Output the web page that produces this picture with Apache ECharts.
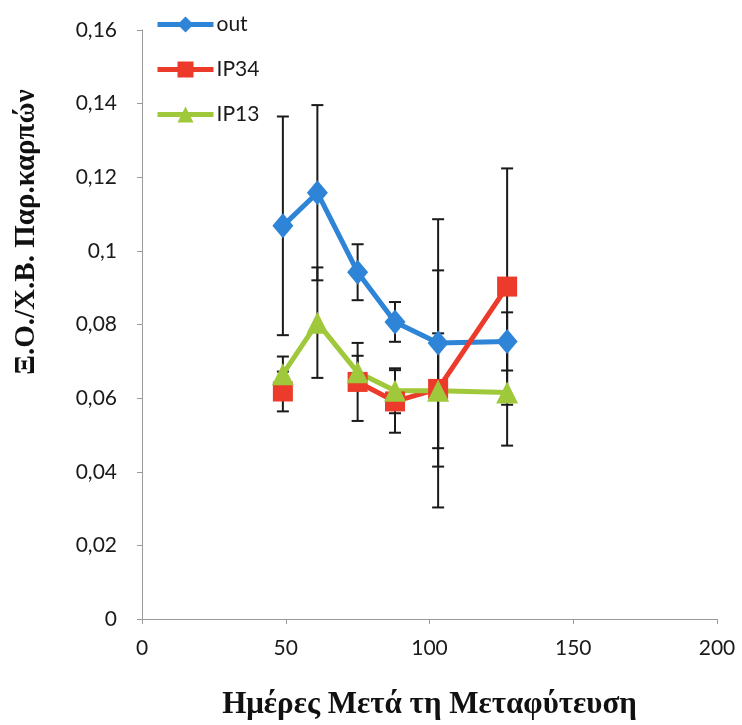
<!DOCTYPE html>
<html>
<head>
<meta charset="utf-8">
<script src="https://cdn.jsdelivr.net/npm/echarts@6/dist/echarts.min.js"></script>
<style>
  html, body { margin: 0; padding: 0; background: #fff; }
  #chart { width: 742px; height: 725px; }
</style>
</head>
<body>
<div id="chart"></div>
<script>
// Days after transplanting
const days = [49, 61, 75, 88, 103, 127];

// Mean values per treatment (null = no measurement)
const outVals  = [0.1068, 0.1158, 0.0942, 0.0807, 0.0750, 0.0754];
const ip34Vals = [0.0618, null,   0.0644, 0.0591, 0.0625, 0.0903];
const ip13Vals = [0.0665, 0.0805, 0.0670, 0.0620, 0.0620, 0.0615];

// Standard deviations (half-length of the error bars)
const outErr  = [0.0297, 0.0238, 0.0076, 0.0054, 0.0336, 0.0079];
const ip34Err = [0.0054, null,   0.0106, 0.0085, 0.0322, 0.0321];
const ip13Err = [0.0048, 0.0150, 0.0045, 0.0061, 0.0156, 0.0144];

const seriesNames = ['out', 'IP34', 'IP13'];
const colors = ['#2e84d6', '#ec3a2b', '#9fc93a'];
const yTicks = [0, 0.02, 0.04, 0.06, 0.08, 0.1, 0.12, 0.14, 0.16];

const tickFont = 'Lato, "Open Sans", sans-serif';
const titleFont = '"Liberation Serif", "DejaVu Serif", serif';

function pairs(vals) {
  return days.map((d, i) => [d, vals[i]]);
}
function errData(vals, errs) {
  const out = [];
  days.forEach((d, i) => {
    if (vals[i] != null && errs[i] != null) out.push([d, vals[i] - errs[i], vals[i] + errs[i]]);
  });
  return out;
}

function errorBarSeries(vals, errs) {
  return {
    type: 'custom',
    z: 1,
    silent: true,
    data: errData(vals, errs),
    encode: { x: 0, y: [1, 2] },
    renderItem: function (params, api) {
      const x = api.value(0);
      const lo = api.coord([x, api.value(1)]);
      const hi = api.coord([x, api.value(2)]);
      const hw = 6;
      const style = { stroke: '#1a1a1a', lineWidth: 2 };
      return {
        type: 'group',
        children: [
          { type: 'line', shape: { x1: hi[0], y1: hi[1], x2: lo[0], y2: lo[1] }, style: style },
          { type: 'line', shape: { x1: hi[0] - hw, y1: hi[1], x2: hi[0] + hw, y2: hi[1] }, style: style },
          { type: 'line', shape: { x1: lo[0] - hw, y1: lo[1], x2: lo[0] + hw, y2: lo[1] }, style: style }
        ]
      };
    }
  };
}

function lineSeries(name, vals, color, symbol, size) {
  return {
    name: name,
    type: 'line',
    z: 3,
    data: pairs(vals),
    connectNulls: false,
    symbol: symbol,
    symbolSize: size,
    showAllSymbol: true,
    lineStyle: { color: color, width: 5 },
    itemStyle: { color: color, borderWidth: 0 },
    emphasis: { disabled: true }
  };
}

const chart = echarts.init(document.getElementById('chart'), null, { renderer: 'canvas' });

const option = {
  animation: false,
  backgroundColor: '#ffffff',
  color: colors,
  grid: { left: 142, right: 25, top: 30, bottom: 91, containLabel: false },
  legend: {
    orient: 'vertical',
    left: 150,
    top: 9,
    itemWidth: 56,
    itemHeight: 20,
    itemGap: 24,
    data: seriesNames,
    lineStyle: { width: 5 },
    textStyle: { fontFamily: tickFont, fontSize: 21, color: '#1a1a1a', padding: [0, 0, 0, -2] }
  },
  xAxis: {
    type: 'value',
    min: 0,
    max: 200,
    interval: 50,
    name: 'Ημέρες Μετά τη Μεταφύτευση',
    nameLocation: 'middle',
    nameGap: 70,
    nameTextStyle: { fontFamily: titleFont, fontWeight: 'bold', fontSize: 31, color: '#111' },
    axisLine: { lineStyle: { color: '#9a9a9a', width: 1 } },
    axisTick: { show: true, length: 5, lineStyle: { color: '#9a9a9a' } },
    axisLabel: { fontFamily: tickFont, fontSize: 21, color: '#1a1a1a', margin: 19 },
    splitLine: { show: false }
  },
  yAxis: {
    type: 'value',
    min: 0,
    max: 0.16,
    interval: 0.02,
    axisLine: { show: true, lineStyle: { color: '#9a9a9a', width: 1 } },
    axisTick: { show: true, length: 5, lineStyle: { color: '#9a9a9a' } },
    axisLabel: {
      fontFamily: tickFont,
      fontSize: 21,
      color: '#1a1a1a',
      margin: 25,
      formatter: function (v) {
        const t = yTicks.find(k => Math.abs(k - v) < 1e-9);
        return String(+(t != null ? t : v).toFixed(2)).replace('.', ',');
      }
    },
    splitLine: { show: false }
  },
  graphic: [{
    type: 'text',
    x: 27,
    y: 232,
    rotation: Math.PI / 2,
    style: {
      text: 'Ξ.Ο./Χ.Β. Παρ.καρπών',
      fontFamily: titleFont,
      fontWeight: 'bold',
      fontSize: 29,
      fill: '#111',
      align: 'center',
      verticalAlign: 'middle'
    }
  }],
  series: [
    errorBarSeries(outVals, outErr),
    errorBarSeries(ip34Vals, ip34Err),
    errorBarSeries(ip13Vals, ip13Err),
    lineSeries('out', outVals, colors[0], 'diamond', [21, 25]),
    lineSeries('IP34', ip34Vals, colors[1], 'rect', 20),
    lineSeries('IP13', ip13Vals, colors[2], 'triangle', 22)
  ]
};

chart.setOption(option);
</script>
</body>
</html>
